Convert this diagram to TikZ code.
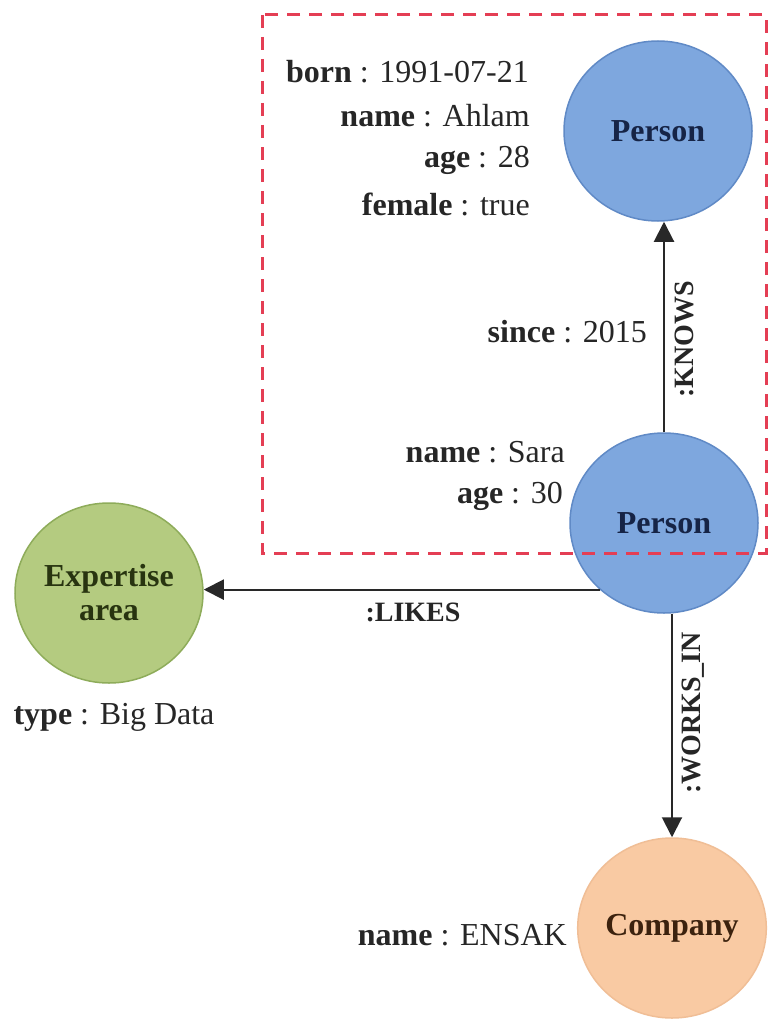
\documentclass[tikz,border=0pt]{standalone}
\usepackage{fontspec}
\setmainfont{Liberation Serif}
\usetikzlibrary{arrows.meta,shapes.geometric}
\definecolor{pfill}{RGB}{126,167,222}
\definecolor{pdraw}{RGB}{96,138,198}
\definecolor{ptext}{RGB}{22,36,70}
\definecolor{gfill}{RGB}{180,203,128}
\definecolor{gdraw}{RGB}{142,172,90}
\definecolor{gtext}{RGB}{40,52,16}
\definecolor{ofill}{RGB}{249,202,163}
\definecolor{odraw}{RGB}{240,190,150}
\definecolor{otext}{RGB}{60,34,14}
\definecolor{dashred}{RGB}{228,62,84}
\definecolor{linegray}{RGB}{40,40,40}
\tikzset{
  ent/.style={ellipse, minimum width=188pt, minimum height=180pt, line width=1.5pt, inner sep=0pt, font=\fontsize{32}{36}\selectfont\bfseries, align=center},
  person/.style={ent, fill=pfill, draw=pdraw, text=ptext},
  expert/.style={ent, fill=gfill, draw=gdraw, text=gtext},
  company/.style={ent, fill=ofill, draw=odraw, text=otext},
  prop/.style={inner sep=0pt, font=\fontsize{32}{36}\selectfont, text=black!85, anchor=east},
  rel/.style={inner sep=0pt, font=\fontsize{28}{32}\selectfont\bfseries, text=black!85},
  arr/.style={draw=linegray, line width=2pt, -{Triangle[length=20pt,width=20pt]}},
  box/.style={draw=dashred, line width=3pt, dash pattern=on 13pt off 9pt}
}
\begin{document}
\begin{tikzpicture}[x=1pt,y=-1pt]
\useasboundingbox[fill=white] (0,0) rectangle (769,1022);
% entities
\node[person] (p1) at (658,131) {Person};
\node[person] (p2) at (664,523) {Person};
\node[expert] (exp) at (109,593) {Expertise\\[-2pt]area};
\node[company] (co) at (672,928) {Company};
% relationships
\draw[arr] (p2.north) -- (p2.north |- p1.south);
\draw[arr] (p2.226) -- (p2.226 -| exp.east);
\draw[arr] (co.north |- p2.south) -- (co.north);
\node[rel, rotate=90] (lk) at (684,339) {:KNOWS};
\node[rel] (ll) at (413,612) {:LIKES};
\node[rel, rotate=90] (lw) at (693,713) {:WORKS\_IN};
% properties
\node[prop] (a1) at (529,72) {\textbf{born} : 1991-07-21};
\node[prop] (a2) at (530,116) {\textbf{name} : Ahlam};
\node[prop] (a3) at (530,160) {\textbf{age} : 28};
\node[prop] (a4) at (530,204) {\textbf{female} : true};
\node[prop] (s1) at (647,332) {\textbf{since} : 2015};
\node[prop] (b1) at (565,452) {\textbf{name} : Sara};
\node[prop] (b2) at (563,496) {\textbf{age} : 30};
\node[prop, anchor=center] (t1) at (114,717) {\textbf{type} : Big Data};
\node[prop] (c1) at (567,935) {\textbf{name} : ENSAK};
% dashed frame
\draw[box] (262,15) rectangle (766,553);
\end{tikzpicture}
\end{document}
